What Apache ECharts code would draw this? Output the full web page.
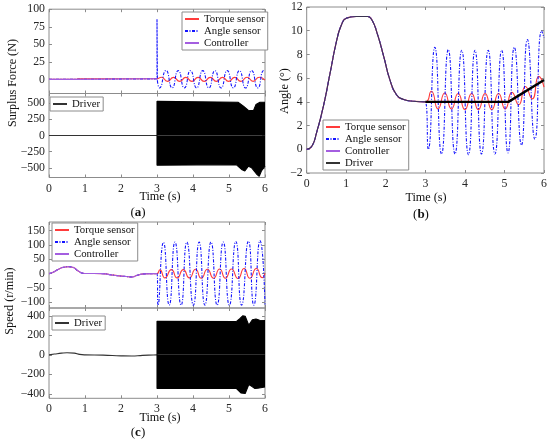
<!DOCTYPE html>
<html>
<head>
<meta charset="utf-8">
<script src="https://cdn.jsdelivr.net/npm/echarts@6.0.0/dist/echarts.min.js"></script>
<style>
  html, body { margin: 0; padding: 0; background: #fff; }
  #chart { width: 550px; height: 444px; }
</style>
</head>
<body>
<div id="chart"></div>
<script>
// tick labels
var timeTicks = [0, 1, 2, 3, 4, 5, 6];
var forceTicks = [0, 25, 50, 75, 100];
var driverForceTicks = [-500, -250, 0, 250, 500];
var angleTicks = [-2, 0, 2, 4, 6, 8, 10, 12];
var speedTicks = [-100, -50, 0, 50, 100, 150];
var driverSpeedTicks = [-400, -200, 0, 200, 400];

// (a) surplus force, [time, N]
var forcePre = [[0, 0.1], [0.4, 0.2], [0.76, 0.1], [0.8, 0.9], [3, 0.9]];
var forceAngleSpike = [[3, 0.9], [3, 86], [3.012, -2]];
var forceAngleOsc = [[3.012, -2], [3.07, -12], [3.25, 12.8], [3.42, -12], [3.59, 12.6], [3.76, -12], [3.93, 12.5],
  [4.1, -12], [4.27, 12.5], [4.44, -12], [4.61, 12.5], [4.78, -12], [4.95, 12.6], [5.12, -12], [5.29, 12.5],
  [5.46, -12.2], [5.63, 12.6], [5.8, -12], [5.97, 12.8], [6, 12.5]];
var forceTorqueOsc = [[3, 0.9], [3.12, 3.2], [3.29, -2.8], [3.46, 3], [3.63, -2.8], [3.8, 3], [3.97, -2.8],
  [4.14, 3], [4.31, -2.8], [4.48, 3], [4.65, -2.8], [4.82, 3], [4.99, -2.8], [5.16, 3], [5.33, -2.8],
  [5.5, 3.2], [5.67, -2.8], [5.84, 3.2], [6, -1]];
var driverForcePre = [[0, 0], [3, 0]];
var driverForceUpper = [[3, 0], [3, 530], [3.05, 520], [5.25, 515], [5.4, 455], [5.54, 390], [5.68, 385],
  [5.75, 480], [5.86, 515], [6, 515]];
var driverForceLower = [[3, 0], [3, -460], [5.2, -450], [5.35, -525], [5.44, -550], [5.54, -475], [5.63, -500],
  [5.77, -600], [5.84, -630], [5.9, -550], [6, -475]];

// (b) angle, [time, deg]
var anglePre = [[0, 0], [0.13, 0.25], [0.25, 1.4], [0.42, 3.6], [0.59, 6.4], [0.76, 9.2], [0.88, 10.5],
  [1.0, 11.05], [1.25, 11.2], [1.54, 11.2], [1.65, 10.9], [1.78, 9.8], [1.95, 7.8], [2.1, 5.9], [2.27, 4.6],
  [2.45, 4.2], [2.7, 4.05], [3.0, 4.0]];
var angleDriverPost = [[3, 4.0], [5.1, 4.0], [6, 5.85]];
var angleTorquePost = [[3, 4.0], [3.15, 4.9], [3.32, 3.4], [3.49, 4.75], [3.66, 3.4], [3.83, 4.7], [4.0, 3.35],
  [4.17, 4.7], [4.34, 3.35], [4.51, 4.7], [4.68, 3.35], [4.85, 4.7], [5.02, 3.4], [5.19, 4.8], [5.36, 3.75],
  [5.53, 5.3], [5.7, 4.25], [5.87, 6.15], [6.0, 5.25]];
var angleSensorPost = [[3, 4.0], [3.075, 0.0], [3.24, 8.6], [3.41, -0.4], [3.58, 8.4], [3.75, -0.4], [3.92, 8.35],
  [4.09, -0.45], [4.255, 8.35], [4.42, -0.4], [4.59, 8.35], [4.76, -0.4], [4.93, 8.35], [5.09, -0.3],
  [5.25, 8.6], [5.43, 0.35], [5.58, 9.25], [5.77, 0.85], [5.94, 10.0], [6.0, 9.4]];

// (c) speed, [time, r/min]
var speedPre = [[0, 0], [0.1, 4], [0.25, 14], [0.4, 22], [0.55, 24], [0.68, 21], [0.8, 10], [0.92, 2],
  [1.0, 0.5], [1.5, 0], [1.7, -4], [1.95, -8], [2.15, -10], [2.3, -12], [2.45, -6], [2.65, -1], [2.9, 0], [3.0, 0]];
var speedAnglePost = [[3, 0], [3.03, -110], [3.18, 109], [3.34, -110], [3.5, 110], [3.67, -110], [3.83, 110],
  [4.01, -110], [4.17, 110], [4.33, -110], [4.5, 110], [4.67, -110], [4.84, 110], [5.01, -110], [5.19, 112],
  [5.35, -110], [5.54, 113], [5.69, -110], [5.86, 115], [6.0, -108]];
var speedTorquePost = [[3, 0], [3.08, 13], [3.22, -15], [3.4, 14], [3.56, -15], [3.73, 14], [3.9, -15],
  [4.07, 15], [4.23, -16], [4.4, 15], [4.57, -16], [4.74, 16], [4.9, -16], [5.07, 16], [5.25, -17],
  [5.42, 18], [5.58, -16], [5.76, 18], [5.92, -14], [6, 2]];
var driverSpeedPre = [[0, 0], [0.15, 8], [0.35, 18], [0.5, 22], [0.7, 18], [0.85, 5], [1.0, 0], [1.5, -3],
  [2.0, -10], [2.3, -12], [2.6, -5], [2.9, -2], [3.0, 0]];
var driverSpeedUpper = [[3, 0], [3, 345], [5.2, 340], [5.3, 370], [5.38, 400], [5.45, 395], [5.55, 305],
  [5.65, 360], [5.75, 368], [5.85, 355], [6, 352]];
var driverSpeedLower = [[3, 0], [3, -345], [5.2, -342], [5.33, -390], [5.45, -395], [5.55, -305],
  [5.62, -320], [5.72, -345], [5.8, -342], [6, -330]];

var FONT = 'Liberation Serif';
var BOX = '#8c8c8c';
var RED = '#ff3b3b';
var BLUE = '#1414ff';
var PURPLE = '#a45ee0';
var BLACK = '#000';

function minus(v) { return String(v).replace('-', '\u2212'); }

function xAxes(g, showLabels) {
  var base = {
    type: 'value', gridIndex: g, min: 0, max: 6, interval: 1,
    axisLine: { show: false, onZero: false }, splitLine: { show: false },
    axisTick: { inside: true, length: 3, customValues: timeTicks, lineStyle: { color: BOX } }
  };
  return [
    Object.assign({}, base, { position: 'bottom',
      axisLabel: { show: showLabels, customValues: timeTicks, margin: 5, fontSize: 11.8, color: '#262626', fontFamily: FONT } }),
    Object.assign({}, base, { position: 'top', axisLabel: { show: false } })
  ];
}

function yAxes(g, min, max, ticks) {
  var base = {
    type: 'value', gridIndex: g, min: min, max: max,
    axisLine: { show: false, onZero: false }, splitLine: { show: false },
    axisTick: { inside: true, length: 3, customValues: ticks, lineStyle: { color: BOX } }
  };
  return [
    Object.assign({}, base, { position: 'left',
      axisLabel: { customValues: ticks, margin: 4, fontSize: 11.8, color: '#262626', fontFamily: FONT, formatter: minus } }),
    Object.assign({}, base, { position: 'right', axisLabel: { show: false } })
  ];
}

function line(name, g, data, color, opts) {
  return Object.assign({
    type: 'line', name: name, xAxisIndex: 2 * g, yAxisIndex: 2 * g, data: data,
    symbol: 'none', showSymbol: false, animation: false, silent: true,
    lineStyle: { color: color, width: 1.1 }, itemStyle: { color: color }
  }, opts || {});
}

function band(name, g, data) {
  return line(name, g, data, BLACK, { areaStyle: { color: BLACK, opacity: 1 } });
}

function legend(data, left, top) {
  return {
    data: data, left: left, top: top, orient: 'vertical',
    itemWidth: 14, itemHeight: 12, itemGap: 0, padding: [1, 3, 1, 2],
    borderColor: BOX, borderWidth: 1, backgroundColor: '#fff', selectedMode: false,
    itemStyle: { opacity: 0 },
    textStyle: { fontFamily: FONT, fontSize: 10.8, color: '#111', lineHeight: 12 }
  };
}

function label(text, x, y, rot) {
  return { type: 'text', x: x, y: y, rotation: rot || 0,
    style: { text: text, fontSize: 12.2, fontFamily: FONT, fill: '#111', align: 'center', verticalAlign: 'middle' } };
}

function caption(letter, x, y) {
  return { type: 'text', x: x, y: y,
    style: { text: '({b|' + letter + '})', fontSize: 13, fontFamily: FONT, fill: '#111', align: 'center', verticalAlign: 'middle',
      rich: { b: { fontWeight: 'bold', fontSize: 13, fontFamily: FONT, fill: '#111' } } } };
}

var blueDash = { color: BLUE, width: 1.1, type: [3, 1.5, 1, 1.5] };

var option = {
  animation: false,
  backgroundColor: '#fff',
  textStyle: { fontFamily: FONT },
  grid: [
    { left: 49, top: 9.2, width: 216, height: 84.3, show: true, borderColor: BOX, borderWidth: 1 },
    { left: 49, top: 93.5, width: 216, height: 84, show: true, borderColor: BOX, borderWidth: 1 },
    { left: 306.7, top: 7, width: 237.3, height: 166, show: true, borderColor: BOX, borderWidth: 1 },
    { left: 49, top: 222, width: 216, height: 86, show: true, borderColor: BOX, borderWidth: 1 },
    { left: 49, top: 308, width: 216, height: 90.3, show: true, borderColor: BOX, borderWidth: 1 }
  ],
  xAxis: [].concat(xAxes(0, false), xAxes(1, true), xAxes(2, true), xAxes(3, false), xAxes(4, true)),
  yAxis: [].concat(
    yAxes(0, -20, 100, forceTicks),
    yAxes(1, -650, 650, driverForceTicks),
    yAxes(2, -2, 12, angleTicks),
    yAxes(3, -120, 180, speedTicks),
    yAxes(4, -445, 480, driverSpeedTicks)
  ),
  legend: [
    legend(['Torque sensor', 'Angle sensor', 'Controller'], 182, 12),
    legend(['Driver'], 50, 97),
    legend(['Torque sensor', 'Angle sensor', 'Controller', 'Driver'], 323, 120),
    legend(['Torque sensor', 'Angle sensor', 'Controller'], 52, 223),
    legend(['Driver'], 52, 316)
  ],
  graphic: [
    label('Surplus Force (N)', 12.5, 83, Math.PI / 2),
    label('Angle (\u00b0)', 285, 91, Math.PI / 2),
    label('Speed (r/min)', 10, 301, Math.PI / 2),
    label('Time (s)', 160, 197),
    label('Time (s)', 426, 198),
    label('Time (s)', 160, 418),
    caption('a', 138, 213),
    caption('b', 421, 215),
    caption('c', 138, 433)
  ],
  series: [
    // (a) top
    line('Torque sensor', 0, forcePre.concat(forceTorqueOsc.slice(1)), RED, { smooth: 0.6 }),
    line('Angle sensor', 0, forcePre.concat(forceAngleSpike.slice(1)), BLUE, { lineStyle: blueDash }),
    line('Angle sensor', 0, forceAngleOsc, BLUE, { smooth: 0.6, lineStyle: blueDash }),
    line('Controller', 0, forcePre, PURPLE),
    // (a) bottom
    line('Driver', 1, driverForcePre, '#333'),
    band('driver-force-upper', 1, driverForceUpper),
    band('driver-force-lower', 1, driverForceLower),
    // (b)
    line('Torque sensor', 2, anglePre.concat(angleTorquePost.slice(1)), RED, { smooth: 0.6 }),
    line('Angle sensor', 2, anglePre.concat(angleSensorPost.slice(1)), BLUE, { smooth: 0.6, lineStyle: blueDash }),
    line('Controller', 2, anglePre, PURPLE, { smooth: 0.5 }),
    line('Driver', 2, anglePre, '#3a3350', { smooth: 0.5 }),
    line('Driver', 2, angleDriverPost, BLACK, { lineStyle: { color: BLACK, width: 2.4 } }),
    // (c) top
    line('Torque sensor', 3, speedPre.concat(speedTorquePost.slice(1)), RED, { smooth: 0.6 }),
    line('Angle sensor', 3, speedPre.concat(speedAnglePost.slice(1)), BLUE, { smooth: 0.6, lineStyle: blueDash }),
    line('Controller', 3, speedPre, PURPLE, { smooth: 0.5 }),
    // (c) bottom
    line('Driver', 4, driverSpeedPre, '#333', { smooth: 0.5 }),
    band('driver-speed-upper', 4, driverSpeedUpper),
    band('driver-speed-lower', 4, driverSpeedLower)
  ]
};

var myChart = echarts.init(document.getElementById('chart'));
myChart.setOption(option);
</script>
</body>
</html>
